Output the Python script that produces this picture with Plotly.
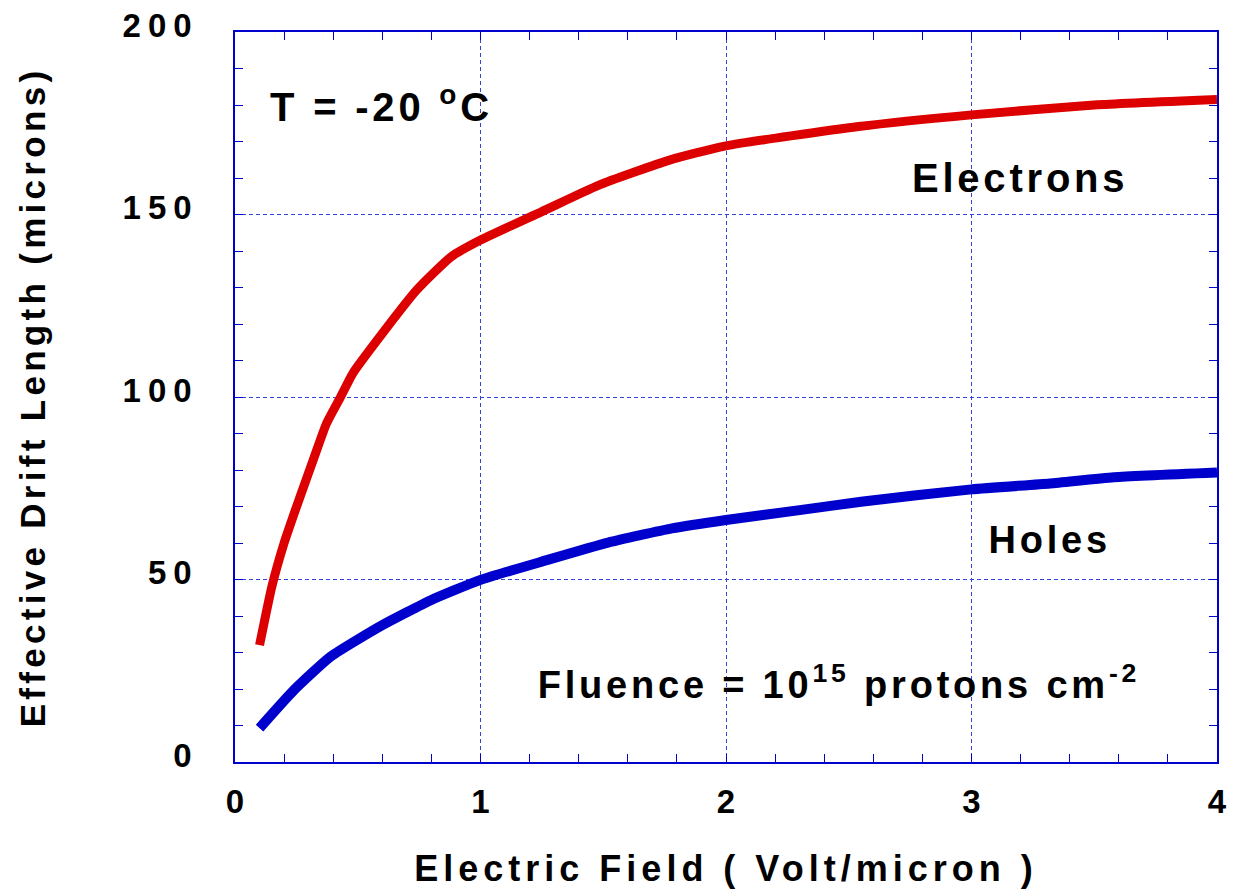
import plotly.graph_objects as go

# Electrons (red)
field_e = [0.1, 0.15, 0.2, 0.265, 0.32, 0.373, 0.43, 0.48, 0.6, 0.74, 0.88, 1.0,
           1.25, 1.48, 1.77, 2.0, 2.54, 3.0, 3.5, 4.0]
drift_e = [32, 48, 60, 72.7, 83, 92.8, 100, 106.5, 117.4, 129.3, 138.4, 143,
           150.8, 158, 164.9, 168.8, 174.1, 177.3, 180, 181.5]

# Holes (blue)
field_h = [0.1, 0.24, 0.39, 0.6, 0.8, 1.0, 1.27, 1.52, 1.78, 2.0, 2.3, 2.55,
           3.0, 3.32, 3.58, 4.0]
drift_h = [9.3, 19.7, 28.9, 37.5, 44.4, 49.9, 55.3, 60.1, 64, 66.3, 69, 71.3,
           74.7, 76.3, 78, 79.3]

x_ticks = [0, 1, 2, 3, 4]
y_ticks = [0, 50, 100, 150, 200]

FONT = "Liberation Sans, Arial, Helvetica, sans-serif"
AXIS_BLUE = "#0000cc"
GRID_BLUE = "#3344dd"

fig = go.Figure()
fig.add_trace(go.Scatter(x=field_e, y=drift_e, mode="lines", name="Electrons",
                         line=dict(color="#dd0000", width=9, shape="spline", smoothing=0.5)))
fig.add_trace(go.Scatter(x=field_h, y=drift_h, mode="lines", name="Holes",
                         line=dict(color="#0000cc", width=10, shape="spline", smoothing=0.5)))

axis_common = dict(
    showline=True, linecolor=AXIS_BLUE, linewidth=1.5, mirror="ticks",
    ticks="inside", ticklen=8, tickwidth=1, tickcolor=AXIS_BLUE,
    showgrid=True, gridcolor=GRID_BLUE, gridwidth=1, griddash="4px,3px",
    zeroline=False, automargin=False,
    tickfont=dict(family=FONT, size=33, color="black", weight="bold"),
)

fig.update_xaxes(
    range=[0, 4], tickvals=x_ticks, ticktext=[str(v) for v in x_ticks],
    minor=dict(dtick=0.2, ticks="inside", ticklen=8, tickcolor=AXIS_BLUE, showgrid=False),
    ticklabelstandoff=10,
    title=dict(text="Electric Field ( Volt/micron )", standoff=36,
               font=dict(family=FONT, size=36, color="black", weight="bold")),
    **axis_common,
)
fig.update_yaxes(
    range=[0, 200], tickvals=y_ticks, ticktext=[str(v) for v in y_ticks],
    minor=dict(dtick=10, ticks="inside", ticklen=8, tickcolor=AXIS_BLUE, showgrid=False),
    ticklabelstandoff=28, ticklabelshift=-7,
    title=dict(text="Effective Drift Length (microns)", standoff=87,
               font=dict(family=FONT, size=35, color="black", weight="bold")),
    **axis_common,
)

ann_font = dict(family=FONT, size=40, color="black", weight="bold")
fig.add_annotation(x=0.597, y=180.3, text="T = -20 <sup>o</sup>C", showarrow=False,
                   font=ann_font, xanchor="center", yanchor="middle")
fig.add_annotation(x=3.198, y=160.1, text="Electrons", showarrow=False,
                   font=ann_font, xanchor="center", yanchor="middle")
fig.add_annotation(x=3.318, y=60.8, text="Holes", showarrow=False,
                   font=dict(family=FONT, size=38, color="black", weight="bold"),
                   xanchor="center", yanchor="middle")
fig.add_annotation(x=2.46, y=22, text="Fluence = 10<sup>15</sup> protons cm<sup>-2</sup>",
                   showarrow=False,
                   font=dict(family=FONT, size=38, color="black", weight="bold"),
                   xanchor="center", yanchor="middle")

fig.update_layout(
    width=1234, height=893,
    margin=dict(l=235, r=17, t=32, b=131),
    paper_bgcolor="white", plot_bgcolor="white",
    showlegend=False,
)

css = (".xtitle{letter-spacing:5px}"
       ".ytitle{letter-spacing:4.3px}"
       ".ytick text{letter-spacing:7px}"
       ".xtick text{letter-spacing:0px}"
       ".annotation-text{letter-spacing:3.8px}")
post = ("var s=document.createElement('style');s.textContent='" + css +
        "';document.head.appendChild(s);")

fig.write_html("out.html", post_script=post)
